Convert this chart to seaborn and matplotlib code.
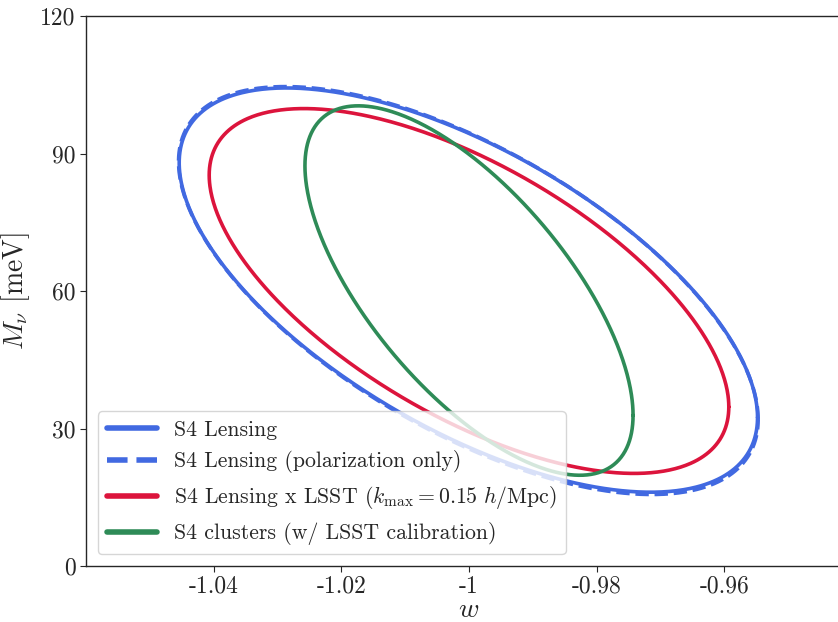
import numpy as np
import pandas as pd
import matplotlib
matplotlib.use("Agg")
import matplotlib.pyplot as plt
import seaborn as sns

# ---- data ----
labels = [
    "S4 Lensing",
    "S4 Lensing (polarization only)",
    r"S4 Lensing x LSST ($k_{\rm max} = 0.15\ h/{\rm Mpc}$)",
    "S4 clusters (w/ LSST calibration)",
]
center_w = [-1.0001, -1.0001, -1.0000, -1.0000]
center_m = [60.2, 60.1, 60.0, 60.1]
extent_w = [0.0453, 0.0454, 0.0407, 0.0257]   # half-width of ellipse in w
extent_m = [44.1, 44.5, 39.8, 40.3]           # half-height of ellipse in M_nu
rho = [-0.63, -0.632, -0.635, -0.675]          # correlation coefficient
colors = ["#4169E1", "#4169E1", "#DC143C", "#2E8B57"]
styles = ["-", "--", "-", "-"]

xticks = [-1.04, -1.02, -1.0, -0.98, -0.96]
xticklabels = ["-1.04", "-1.02", "-1", "-0.98", "-0.96"]
yticks = [0, 30, 60, 90, 120]

sns.set_style("ticks")
plt.rcParams["font.family"] = "serif"
plt.rcParams["font.serif"] = ["cmr10", "DejaVu Serif"]
plt.rcParams["mathtext.fontset"] = "cm"
plt.rcParams["axes.formatter.use_mathtext"] = True
plt.rcParams["axes.unicode_minus"] = False

fig = plt.figure(figsize=(8.38, 6.22), dpi=100)
ax = fig.add_axes([86 / 838, 56 / 622, 766 / 838, 550 / 622])

t = np.linspace(0, 2 * np.pi, 721)
for i, lab in enumerate(labels):
    w = center_w[i] + extent_w[i] * np.cos(t)
    m = center_m[i] + extent_m[i] * (rho[i] * np.cos(t) + np.sqrt(1 - rho[i] ** 2) * np.sin(t))
    df = pd.DataFrame({"w": w, "m": m})
    sns.lineplot(data=df, x="w", y="m", sort=False, estimator=None, ax=ax,
                 color=colors[i], linestyle=styles[i], linewidth=2.6, label=lab)

ax.set_xlim(-1.06, -0.94)
ax.set_ylim(0, 120)
ax.set_xticks(xticks)
ax.set_xticklabels(xticklabels)
ax.set_yticks(yticks)
ax.set_yticklabels([str(v) for v in yticks])
ax.tick_params(labelsize=17, length=4, width=0.8)
ax.tick_params(axis="x", pad=3)
ax.spines["right"].set_visible(False)
for s in ["top", "left", "bottom"]:
    ax.spines[s].set_visible(True)
    ax.spines[s].set_linewidth(1.0)

ax.set_xlabel(r"$w$", fontsize=20, labelpad=-0.5)
ax.set_ylabel(r"$M_\nu$ [meV]", fontsize=20, labelpad=6)

leg = ax.legend(loc="lower left", fontsize=15.7, frameon=True, framealpha=0.8,
                handlelength=2.3, borderaxespad=0.55, labelspacing=0.5)
for h in leg.get_lines():
    h.set_linewidth(4)

fig.savefig("out.png", dpi=100)
